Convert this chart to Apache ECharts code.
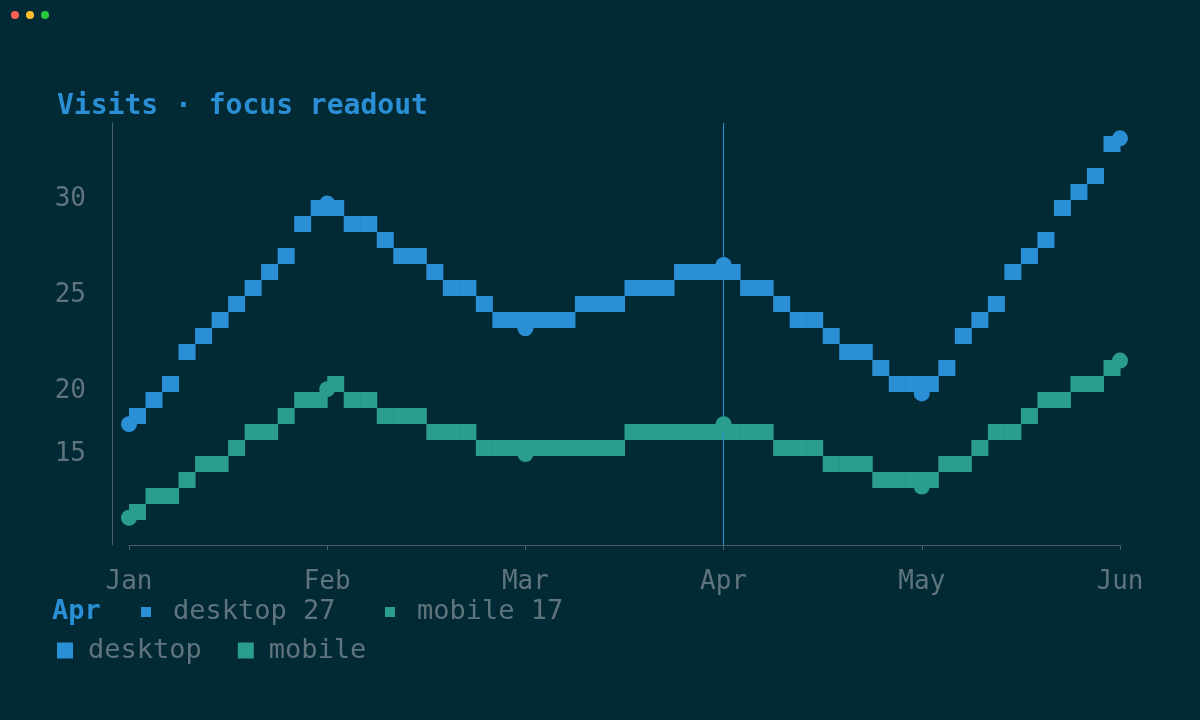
<!DOCTYPE html>
<html><head><meta charset="utf-8">
<script src="https://cdn.jsdelivr.net/npm/echarts@6/dist/echarts.min.js"></script>
<style>html,body{margin:0;background:#022a35;}#c{width:1200px;height:720px;}</style>
</head><body><div id="c"></div>
<script>
const months = ['Jan','Feb','Mar','Apr','May','Jun'];
const desktop = [18.3, 29.8, 23.3, 26.6, 19.9, 33.2];
const mobile = [10.1, 20.0, 15.0, 17.3, 12.5, 22.2];
const desktopTicks = [20, 25, 30];
const mobileTicks = [15];
const focusIndex = 3;
const C_D = '#2b8fd6', C_M = '#2a9d8f', C_T = '#5f747c';
const FONT = 'DejaVu Sans Mono';

function blocks(arr) {
  return function (params, api) {
    const i = params.dataIndex;
    if (i === 0) return null;
    const p0 = api.coord([i - 1, arr[i - 1]]);
    const p1 = api.coord([i, arr[i]]);
    const dx = p1[0] - p0[0], dy = p1[1] - p0[1];
    const n = Math.max(1, Math.round(dx / 17));
    const w = dx / n;
    const children = [];
    for (let k = 0; k < n; k++) {
      const t = (k + 0.5) / n;
      const y = Math.round((p0[1] + t * dy) / 16) * 16;
      children.push({type: 'rect', shape: {x: p0[0] + k * w, y: y - 8, width: w + 0.5, height: 16},
        style: {fill: api.visual('color')}});
    }
    return {type: 'group', children};
  };
}

const chart = echarts.init(document.getElementById('c'));
chart.setOption({
  backgroundColor: '#022a35',
  animation: false,
  textStyle: {fontFamily: FONT},
  title: {text: 'Visits · focus readout', left: 52, top: 88,
    textStyle: {color: C_D, fontFamily: FONT, fontSize: 28, fontWeight: 'bold'}},
  grid: {left: 129, right: 80, top: 123, height: 422},
  xAxis: {type: 'category', data: months, boundaryGap: false,
    axisLine: {lineStyle: {color: '#4a5f66'}}, axisTick: {show: true, lineStyle: {color: '#4a5f66'}},
    axisLabel: {color: C_T, fontSize: 26, fontFamily: FONT, margin: 24}, splitLine: {show: false}},
  yAxis: [
    {type: 'value', min: 12, max: 34, interval: 1, offset: 17,
      axisLine: {show: true, lineStyle: {color: '#4a5f66'}}, axisTick: {show: false}, splitLine: {show: false},
      axisLabel: {color: C_T, fontSize: 26, fontFamily: FONT, margin: 26,
        formatter: v => desktopTicks.includes(v) ? String(v) : ''}},
    {type: 'value', position: 'left', min: 8, max: 40.5, interval: 0.5, offset: 17,
      axisLine: {show: false}, axisTick: {show: false}, splitLine: {show: false},
      axisLabel: {color: C_T, fontSize: 26, fontFamily: FONT, margin: 26,
        formatter: v => mobileTicks.includes(v) ? String(v) : ''}}
  ],
  legend: {left: 52, top: 632, itemWidth: 16, itemHeight: 16, itemGap: 36, icon: 'rect',
    data: ['desktop', 'mobile'], textStyle: {color: C_T, fontSize: 27, fontFamily: FONT, padding: [0, 0, 0, 10]}},
  series: [
    {name: 'desktop', type: 'custom', yAxisIndex: 0, data: desktop.map((v, i) => [i, v]),
      renderItem: blocks(desktop), itemStyle: {color: C_D}, z: 3,
      markLine: {silent: true, symbol: 'none', label: {show: false},
        lineStyle: {color: C_D, width: 1, type: 'solid'}, data: [{xAxis: months[focusIndex]}]}},
    {name: 'mobile', type: 'custom', yAxisIndex: 1, data: mobile.map((v, i) => [i, v]),
      renderItem: blocks(mobile), itemStyle: {color: C_M}, z: 3},
    {name: 'desktop', type: 'line', yAxisIndex: 0, data: desktop, symbol: 'circle', symbolSize: 16,
      lineStyle: {opacity: 0}, itemStyle: {color: C_D}, z: 5},
    {name: 'mobile', type: 'line', yAxisIndex: 1, data: mobile, symbol: 'circle', symbolSize: 16,
      lineStyle: {opacity: 0}, itemStyle: {color: C_M}, z: 5}
  ],
  graphic: [
    {type: 'circle', shape: {cx: 15, cy: 15, r: 4}, style: {fill: '#ff5f56'}},
    {type: 'circle', shape: {cx: 30, cy: 15, r: 4}, style: {fill: '#ffbd2e'}},
    {type: 'circle', shape: {cx: 45, cy: 15, r: 4}, style: {fill: '#27c93f'}},
    {type: 'text', left: 52, top: 598, style: {text: months[focusIndex], fill: C_D, font: 'bold 27px ' + FONT}},
    {type: 'rect', shape: {x: 141, y: 607, width: 10, height: 10}, style: {fill: C_D}},
    {type: 'text', left: 173, top: 598, style: {text: 'desktop ' + Math.round(desktop[focusIndex]), fill: C_T, font: '27px ' + FONT}},
    {type: 'rect', shape: {x: 385, y: 607, width: 10, height: 10}, style: {fill: C_M}},
    {type: 'text', left: 417, top: 598, style: {text: 'mobile ' + Math.round(mobile[focusIndex]), fill: C_T, font: '27px ' + FONT}}
  ]
});
</script></body></html>
